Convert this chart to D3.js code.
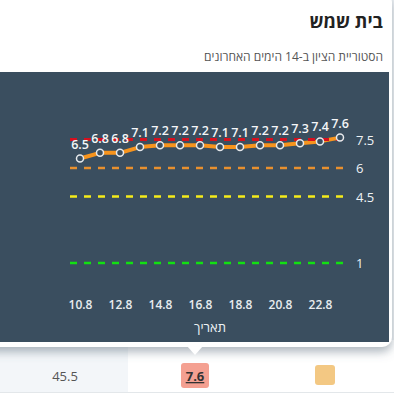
<!DOCTYPE html>
<html><head><meta charset="utf-8">
<script src="https://cdn.jsdelivr.net/npm/d3@7"></script>
<style>
html,body{margin:0;padding:0;background:#fff;}
svg{display:block;font-family:"Open Sans",sans-serif;}
</style></head>
<body>
<svg id="c" width="394" height="400"></svg>
<script>
const dates = ["10.8","11.8","12.8","13.8","14.8","15.8","16.8","17.8","18.8","19.8","20.8","21.8","22.8","23.8"];
const values = [6.5,6.8,6.8,7.1,7.2,7.2,7.2,7.1,7.1,7.2,7.2,7.3,7.4,7.6];
const tickLabels = ["10.8","12.8","14.8","16.8","18.8","20.8","22.8"];
const thresholds = [7.5,6,4.5,1];
const thresholdColors = ["#d6101e","#e8902e","#f5ec1a","#12e012"];
const title = "בית שמש";
const subtitle = "הסטוריית הציון ב-14 הימים האחרונים";
const axisTitle = "תאריך";

const svg = d3.select("#c");
const defs = svg.append("defs");
const f = defs.append("filter").attr("id","sh").attr("x","-10%").attr("y","-10%").attr("width","120%").attr("height","130%");
f.append("feDropShadow").attr("dx",0).attr("dy",5).attr("stdDeviation",5).attr("flood-color","#5f6f7e").attr("flood-opacity",0.5);

// background below card (table row)
svg.append("rect").attr("x",0).attr("y",0).attr("width",394).attr("height",400).attr("fill","#eef1f4");
svg.append("rect").attr("x",0).attr("y",340).attr("width",394).attr("height",60).attr("fill","#ffffff");
svg.append("rect").attr("x",0).attr("y",340).attr("width",128).attr("height",52).attr("fill","#f3f6f9");
svg.append("line").attr("x1",0).attr("x2",394).attr("y1",392.5).attr("y2",392.5).attr("stroke","#e3e7ea");
svg.append("text").attr("x",65).attr("y",381).attr("text-anchor","middle").attr("font-size",13).attr("fill","#555").text("45.5");
svg.append("rect").attr("x",181).attr("y",363).attr("width",28).attr("height",25).attr("rx",3).attr("fill","#f4a091");
svg.append("text").attr("x",195).attr("y",381).attr("text-anchor","middle").attr("font-size",13).attr("font-weight","bold").attr("fill","#333").attr("text-decoration","underline").text(values[values.length-1]);
svg.append("rect").attr("x",315).attr("y",365).attr("width",20).attr("height",20).attr("rx",3).attr("fill","#f3c883");

// card
svg.append("rect").attr("x",-20).attr("y",-8).attr("width",412).attr("height",355).attr("rx",10).attr("fill","#fff").attr("filter","url(#sh)");
svg.append("path").attr("d","M187,346 L203,346 L195,355 Z").attr("fill","#fff");

svg.append("text").attr("x",383).attr("y",28).attr("text-anchor","end").attr("font-size",18).attr("font-weight","bold").attr("fill","#222").text(title);
svg.append("text").attr("x",383).attr("y",61).attr("text-anchor","end").attr("font-size",12).attr("fill","#555").text(subtitle);

// dark panel
svg.append("rect").attr("x",0).attr("y",72).attr("width",389).attr("height",270).attr("fill","#3a4e5f");

const x = d3.scaleLinear().domain([0, dates.length-1]).range([80, 340]);
const y = d3.scaleLinear().domain([0, 8]).range([282, 130]);

// threshold lines
const tg = svg.append("g");
thresholds.forEach((t,i)=>{
  tg.append("line").attr("x1",70).attr("x2",350).attr("y1",y(t)).attr("y2",y(t))
    .attr("stroke",thresholdColors[i]).attr("stroke-width",2.5).attr("stroke-dasharray","7,7");
  tg.append("text").attr("x",356).attr("y",y(t)+5).attr("font-size",13).attr("fill","#eef2f5").text(t);
});

// series line
svg.append("path").datum(values)
  .attr("d", d3.line().x((d,i)=>x(i)).y(d=>y(d)))
  .attr("fill","none").attr("stroke","#f7941d").attr("stroke-width",4).attr("stroke-linejoin","round");

// top threshold drawn again above the series
svg.append("line").attr("x1",70).attr("x2",350).attr("y1",y(thresholds[0])).attr("y2",y(thresholds[0]))
  .attr("stroke",thresholdColors[0]).attr("stroke-width",3).attr("stroke-dasharray","7,7");

svg.append("g").selectAll("circle").data(values).join("circle")
  .attr("cx",(d,i)=>x(i)).attr("cy",d=>y(d)).attr("r",3.5)
  .attr("fill","#3a4e5f").attr("stroke","#e6e9ec").attr("stroke-width",1.5);

svg.append("g").selectAll("text").data(values).join("text")
  .attr("x",(d,i)=>x(i)).attr("y",d=>y(d)-10).attr("text-anchor","middle")
  .attr("font-size",12.5).attr("font-weight",600).attr("fill","#f4f6f8").text(d=>d);

// x axis
const xa = svg.append("g").attr("transform","translate(0,292)")
  .call(d3.axisBottom(x).tickValues(tickLabels.map(t=>dates.indexOf(t))).tickFormat(i=>dates[i]).tickSize(0).tickPadding(8));
xa.select(".domain").remove();
xa.selectAll("text").attr("font-size",12).attr("font-weight",600).attr("fill","#e8ecef").attr("font-family","Open Sans, sans-serif");

svg.append("text").attr("x",210).attr("y",332).attr("text-anchor","middle").attr("font-size",13).attr("fill","#eef2f5").text(axisTitle);
</script>
</body></html>
